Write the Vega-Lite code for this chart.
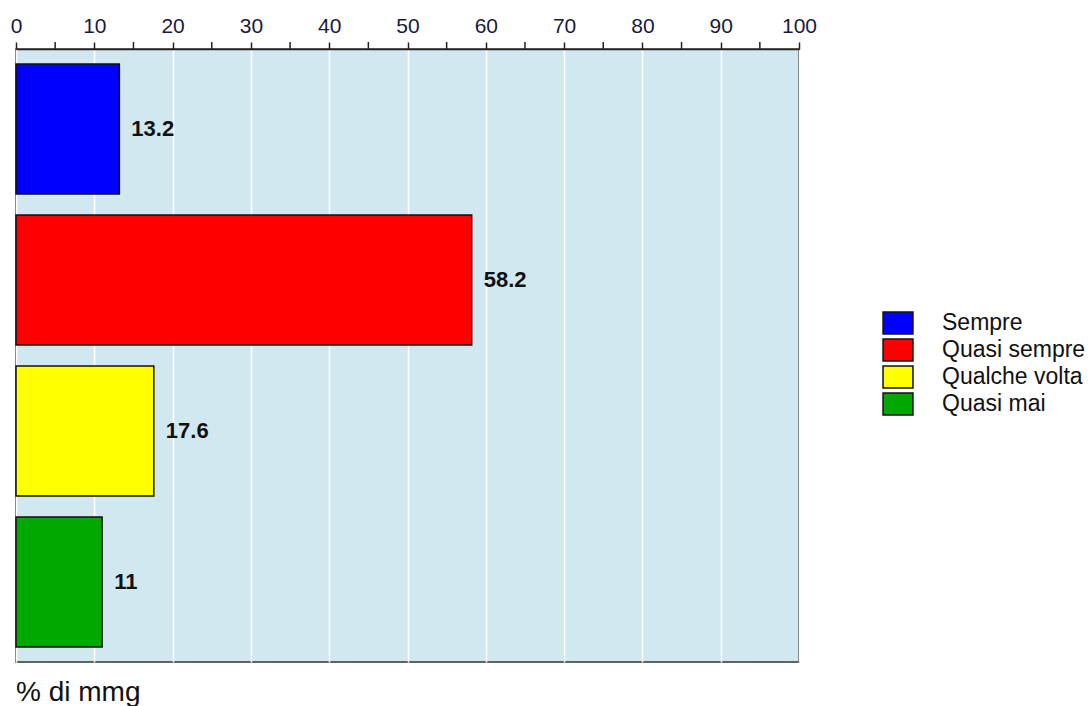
{
  "$schema": "https://vega.github.io/schema/vega-lite/v6.json",
  "autosize": "none",
  "width": 783,
  "height": 613,
  "padding": {"left": 16, "top": 49, "right": 291, "bottom": 44},
  "background": "white",
  "config": {
    "font": "Liberation Sans",
    "view": {"fill": "#D2E8F0", "stroke": "#333333", "strokeWidth": 1.5}
  },
  "title": {
    "text": "% di mmg",
    "orient": "bottom",
    "anchor": "start",
    "frame": "group",
    "font": "Liberation Sans",
    "fontSize": 28,
    "fontWeight": "normal",
    "color": "#111111",
    "offset": 17
  },
  "data": {
    "values": [
      {"risposta": "Sempre", "percentuale": 13.2},
      {"risposta": "Quasi sempre", "percentuale": 58.2},
      {"risposta": "Qualche volta", "percentuale": 17.6},
      {"risposta": "Quasi mai", "percentuale": 11}
    ]
  },
  "encoding": {
    "y": {
      "field": "risposta",
      "type": "nominal",
      "sort": ["Sempre", "Quasi sempre", "Qualche volta", "Quasi mai"],
      "scale": {"paddingInner": 0.14, "paddingOuter": 0.1},
      "axis": null
    },
    "x": {
      "field": "percentuale",
      "type": "quantitative",
      "scale": {"domain": [0, 100], "nice": false, "zero": true},
      "axis": {
        "orient": "top",
        "title": null,
        "values": [0, 10, 20, 30, 40, 50, 60, 70, 80, 90, 100],
        "grid": true,
        "gridColor": "white",
        "gridWidth": 1.5,
        "domainColor": "#222222",
        "domainWidth": 1.5,
        "tickColor": "#222222",
        "tickWidth": 1.5,
        "tickSize": 7,
        "labelFontSize": 21,
        "labelColor": "#1a1a3a",
        "labelPadding": 6,
        "labelFlush": false
      }
    }
  },
  "layer": [
    {
      "mark": {"type": "rule", "color": "#222222", "strokeWidth": 1.5},
      "data": {"values": [{"tacca": 5}, {"tacca": 15}, {"tacca": 25}, {"tacca": 35}, {"tacca": 45}, {"tacca": 55}, {"tacca": 65}, {"tacca": 75}, {"tacca": 85}, {"tacca": 95}]},
      "encoding": {
        "x": {"field": "tacca", "type": "quantitative"},
        "y": {"value": -7},
        "y2": {"value": 0}
      }
    },
    {
      "mark": {"type": "bar", "stroke": "#111111", "strokeWidth": 1.5},
      "encoding": {
        "color": {
          "field": "risposta",
          "type": "nominal",
          "sort": ["Sempre", "Quasi sempre", "Qualche volta", "Quasi mai"],
          "scale": {
            "domain": ["Sempre", "Quasi sempre", "Qualche volta", "Quasi mai"],
            "range": ["#0000FF", "#FF0000", "#FFFF00", "#00A800"]
          },
          "legend": {
            "title": null,
            "orient": "none",
            "legendX": 870,
            "legendY": 262,
            "symbolType": "M-1.36,-1H1.36V1H-1.36Z",
            "symbolSize": 484,
            "symbolStrokeColor": "#111111",
            "symbolStrokeWidth": 1.5,
            "symbolOpacity": 1,
            "labelFontSize": 23,
            "labelColor": "#111111",
            "labelOffset": 32,
            "rowPadding": -1,
            "labelLimit": 300
          }
        }
      }
    },
    {
      "mark": {"type": "text", "align": "left", "baseline": "middle", "dx": 12, "fontSize": 22, "fontWeight": "bold", "color": "#111111"},
      "encoding": {
        "text": {"field": "percentuale", "type": "quantitative"}
      }
    }
  ]
}
